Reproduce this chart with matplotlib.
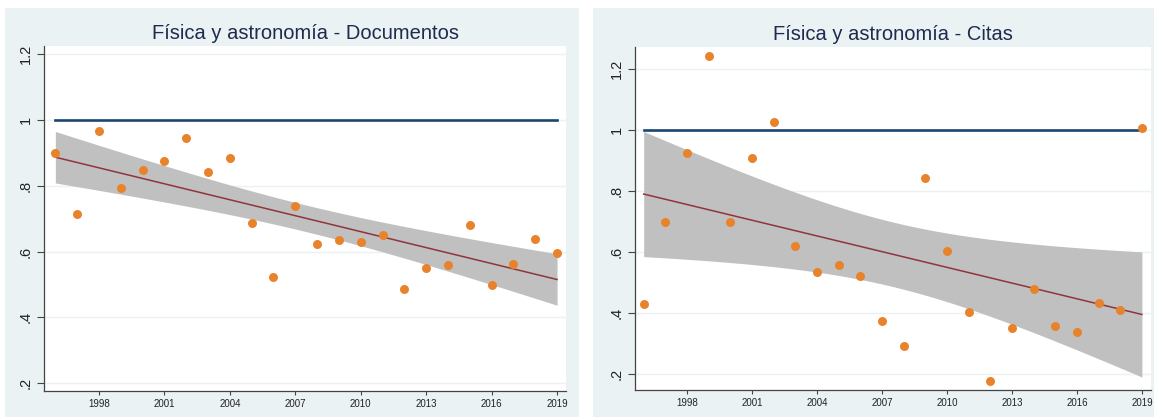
import numpy as np
import matplotlib
matplotlib.use("Agg")
import matplotlib.pyplot as plt
from matplotlib.patches import Rectangle

plt.rcParams['font.family'] = ['Liberation Sans', 'DejaVu Sans']

years = list(range(1996, 2020))
docs = [0.900, 0.714, 0.967, 0.793, 0.848, 0.875, 0.945, 0.842, 0.885, 0.687,
        0.523, 0.738, 0.623, 0.635, 0.629, 0.650, 0.486, 0.550, 0.559, 0.680,
        0.498, 0.562, 0.638, 0.596]
citas = [0.430, 0.698, 0.925, 1.243, 0.700, 0.908, 1.026, 0.620, 0.534, 0.557,
         0.521, 0.374, 0.292, 0.843, 0.603, 0.403, 0.177, 0.351, 0.479, 0.357,
         0.338, 0.433, 0.410, 1.006]
titles = ["Física y astronomía - Documentos", "Física y astronomía - Citas"]
yticks = [0.2, 0.4, 0.6, 0.8, 1.0, 1.2]
yticklabels = [".2", ".4", ".6", ".8", "1", "1.2"]
xticks = [1998, 2001, 2004, 2007, 2010, 2013, 2016, 2019]

W, H = 1154, 417
fig = plt.figure(figsize=(W / 100, H / 100), dpi=100)
fig.patch.set_facecolor('white')

BG = '#eaf2f3'
ORANGE = '#e8832c'
NAVY = '#1a476f'
MAROON = '#90353b'
GRAY = '#c0c0c0'

# panel backgrounds (pixel coords)
for (x0, x1) in [(5, 579), (593, 1154)]:
    fig.add_artist(Rectangle((x0 / W, 0), (x1 - x0) / W, 1 - 8 / H,
                             transform=fig.transFigure, facecolor=BG,
                             edgecolor='none', zorder=-10))

axes_px = [
    (44, 566, 46, 391, (1995.48, 2019.41), (0.176, 1.225)),
    (635, 1151, 47, 390, (1995.6, 2019.42), (0.148, 1.272)),
]

T_CRIT = 2.0739  # t(0.975, 22)

for i, (vals, title) in enumerate([(docs, titles[0]), (citas, titles[1])]):
    x0, x1, yt, yb, xl, yl = axes_px[i]
    ax = fig.add_axes([x0 / W, 1 - yb / H, (x1 - x0) / W, (yb - yt) / H])
    ax.set_zorder(5)
    ax.set_facecolor('white')
    x = np.array(years, dtype=float)
    y = np.array(vals, dtype=float)
    n = len(x)
    b, a = np.polyfit(x, y, 1)
    xs = np.linspace(x.min(), x.max(), 100)
    fit = a + b * xs
    resid = y - (a + b * x)
    s = np.sqrt(np.sum(resid ** 2) / (n - 2))
    se = s * np.sqrt(1 / n + (xs - x.mean()) ** 2 / np.sum((x - x.mean()) ** 2))
    ax.fill_between(xs, fit - T_CRIT * se, fit + T_CRIT * se, color=GRAY,
                    linewidth=0, zorder=2)
    ax.plot(xs, fit, color=MAROON, linewidth=1.1, zorder=3)
    ax.plot([x.min(), x.max()], [1, 1], color=NAVY, linewidth=1.9, zorder=4)
    ax.scatter(x, y, s=42, color=ORANGE, linewidths=0, zorder=5)
    for yv in yticks:
        ax.axhline(yv, color=BG, linewidth=1.0, zorder=1)
    ax.set_xlim(*xl)
    ax.set_ylim(*yl)
    ax.set_yticks(yticks)
    ax.set_yticklabels(yticklabels, rotation=90, va='center', fontsize=10.5,
                       color='#222222')
    ax.set_xticks(xticks)
    ax.set_xticklabels([str(v) for v in xticks], fontsize=7, color='#222222')
    ax.tick_params(axis='y', length=5, width=0.8, color='#444444', pad=3)
    ax.tick_params(axis='x', length=3, width=0.8, color='#444444', pad=3)
    for sp in ['top', 'right']:
        ax.spines[sp].set_visible(False)
    for sp in ['left', 'bottom']:
        ax.spines[sp].set_color('#444444')
        ax.spines[sp].set_linewidth(0.9)
    ax.set_title(title, fontsize=14.5, color='#1e2b4e', pad=5)

fig.savefig('out.png', dpi=100, facecolor=fig.get_facecolor())
